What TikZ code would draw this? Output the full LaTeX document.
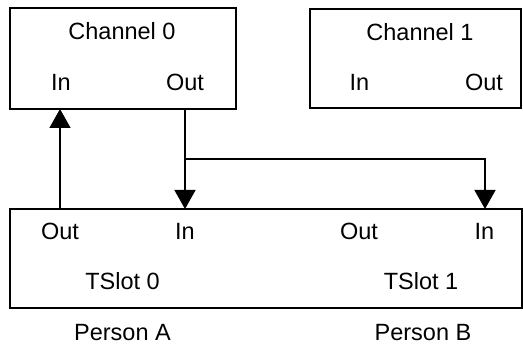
\documentclass[tikz,border=0pt]{standalone}
\usepackage{fontspec}
\setmainfont{Liberation Sans}
\usetikzlibrary{arrows.meta}
\begin{document}
\begin{tikzpicture}[x=1pt,y=-1pt,
  box/.style={draw, line width=1.6pt, inner sep=0pt, outer sep=0pt},
  lbl/.style={anchor=base, inner sep=0pt, font=\fontsize{23.5}{28}\selectfont},
  conn/.style={line width=1.6pt, -{Triangle[width=21pt,length=19pt]}}]
\useasboundingbox (0,0) rectangle (523,344);
\node[box, minimum width=226pt, minimum height=101pt] (ch0) at (123,58.5) {};
\node[box, minimum width=211pt, minimum height=99pt] (ch1) at (415.5,58.5) {};
\node[box, minimum width=512pt, minimum height=99pt] (slot) at (266,258.5) {};
% channel 0
\node[lbl] (cT0) at (122,40) {Channel 0};
\node[lbl] (cIn0) at (61,90.5) {In};
\node[lbl] (cOut0) at (185,90.5) {Out};
% channel 1
\node[lbl] (cT1) at (420,40.5) {Channel 1};
\node[lbl] (cIn1) at (359.5,90.5) {In};
\node[lbl] (cOut1) at (484,90.5) {Out};
% slots
\node[lbl] (sOut0) at (60,240) {Out};
\node[lbl] (sIn0) at (185,240) {In};
\node[lbl] (sT0) at (122.5,289.5) {TSlot 0};
\node[lbl] (sOut1) at (359,240) {Out};
\node[lbl] (sIn1) at (484.5,240) {In};
\node[lbl] (sT1) at (421,289.5) {TSlot 1};
\node[lbl] (pA) at (122.5,340.5) {Person A};
\node[lbl] (pB) at (423,340.5) {Person B};
% connectors
\coordinate (a0) at (60,209);
\coordinate (a1) at (60,109);
\coordinate (b0) at (185,109);
\coordinate (b1) at (185,209);
\coordinate (junc) at (185,159);
\coordinate (c1) at (485,209);
\draw[conn] (a0) -- (a1);
\draw[conn] (b0) -- (b1);
\draw[conn] (junc) -| (c1);
\end{tikzpicture}
\end{document}
